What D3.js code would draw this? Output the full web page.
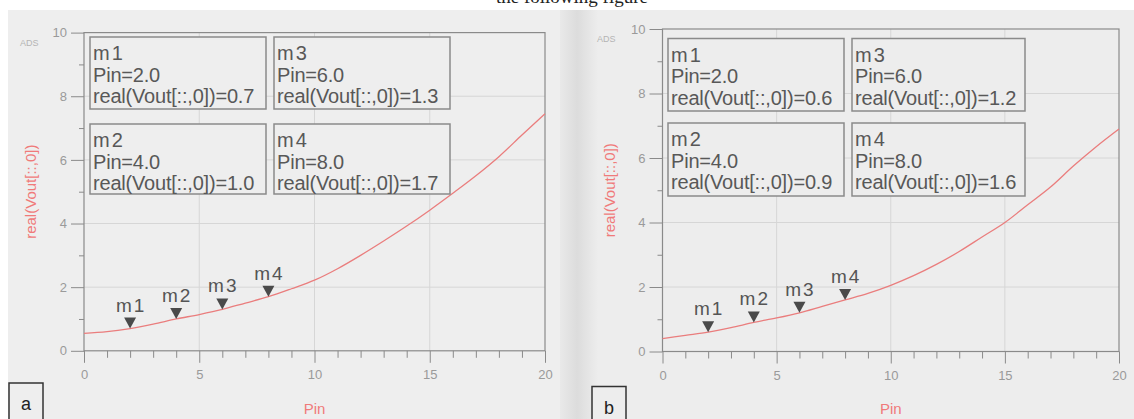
<!DOCTYPE html>
<html>
<head>
<meta charset="utf-8">
<script src="https://cdn.jsdelivr.net/npm/d3@7"></script>
<style>
  body { margin: 0; background: #fff; }
  svg { display: block; }
</style>
</head>
<body>
<div id="chart"></div>
<script>
// swept input (Pin) and the two simulated output curves
const pinSweep = [0, 1, 2, 3, 4, 5, 6, 7, 8, 9, 10, 11, 12, 13, 14, 15, 16, 17, 18, 19, 20];
const voutA = [0.55, 0.6, 0.7, 0.84, 1.0, 1.14, 1.3, 1.5, 1.7, 1.95, 2.22, 2.58, 3.0, 3.45, 3.92, 4.42, 4.95, 5.5, 6.1, 6.78, 7.45];
const voutB = [0.4, 0.5, 0.6, 0.74, 0.9, 1.04, 1.2, 1.4, 1.6, 1.8, 2.05, 2.35, 2.7, 3.1, 3.55, 4.0, 4.55, 5.1, 5.75, 6.35, 6.9];

// markers
const markerNames = ["m1", "m2", "m3", "m4"];
const markerPins = [2, 4, 6, 8];
const markerVoutA = [0.7, 1.0, 1.3, 1.7];
const markerVoutB = [0.6, 0.9, 1.2, 1.6];

// ticks
const yMajorTicks = [0, 2, 4, 6, 8, 10];
const yMinorTicks = [1, 3, 5, 7, 9];
const xMajorTicks = [0, 5, 10, 15, 20];
const xMinorTicks = [1, 2, 3, 4, 6, 7, 8, 9, 11, 12, 13, 14, 16, 17, 18, 19];
const xLabel = "Pin";
const yLabel = "real(Vout[::,0])";

const W = 1134, H = 419;
const bg = "#ededed";
const font = "'Liberation Sans', Arial, sans-serif";

const svg = d3.select("#chart").append("svg")
  .attr("width", W).attr("height", H);

// caption of the page above, cut off by the crop
svg.append("text")
  .attr("x", 572).attr("y", 3)
  .attr("text-anchor", "middle")
  .style("font-family", "'Liberation Serif', 'Times New Roman', serif")
  .style("font-size", "19px")
  .style("fill", "#222")
  .text("the following figure");

const defs = svg.append("defs");
const grad = defs.append("linearGradient").attr("id", "gap");
grad.append("stop").attr("offset", "0%").attr("stop-color", "#e9e9e9");
grad.append("stop").attr("offset", "45%").attr("stop-color", "#dcdcdc");
grad.append("stop").attr("offset", "100%").attr("stop-color", bg);

svg.append("rect").attr("x", 8).attr("y", 10).attr("width", 552).attr("height", H - 10).attr("fill", "#eeeeee");
svg.append("rect").attr("x", 560).attr("y", 10).attr("width", W - 560).attr("height", H - 10).attr("fill", bg);
svg.append("rect").attr("x", 560).attr("y", 10).attr("width", 38).attr("height", H - 10).attr("fill", "url(#gap)");

const panels = [
  {
    letter: "a", vout: voutA, marks: markerVoutA, fill: "#eeeeee",
    left: 84, right: 545, top: 32.6, bottom: 350.8,
    boxX: [90, 274], boxW: [176, 176], boxY: [37, 124], boxH: [72, 70],
    ads: [20, 46], yLabelX: 31, letterBox: [9, 383]
  },
  {
    letter: "b", vout: voutB, marks: markerVoutB, fill: bg,
    left: 662.5, right: 1119, top: 29, bottom: 351.5,
    boxX: [668, 852], boxW: [176, 173], boxY: [38.5, 123], boxH: [72.5, 73],
    ads: [597, 42], yLabelX: 610, letterBox: [592, 386.5]
  }
];

panels.forEach(drawPanel);

function drawPanel(p) {
  const x = d3.scaleLinear().domain([0, 20]).range([p.left, p.right]);
  const y = d3.scaleLinear().domain([0, 10]).range([p.bottom, p.top]);
  const g = svg.append("g");

  // grid
  g.append("g").selectAll("line").data(yMajorTicks.slice(1, -1)).join("line")
    .attr("x1", p.left).attr("x2", p.right)
    .attr("y1", d => y(d)).attr("y2", d => y(d))
    .attr("stroke", "#d6d6d6");
  g.append("g").selectAll("line").data(xMajorTicks.slice(1, -1)).join("line")
    .attr("y1", p.top).attr("y2", p.bottom)
    .attr("x1", d => x(d)).attr("x2", d => x(d))
    .attr("stroke", "#d6d6d6");

  // axes
  const styleAxis = sel => {
    sel.select(".domain").remove();
    sel.selectAll(".tick line").attr("stroke", "#8a8a8a");
    sel.selectAll(".tick text")
      .style("font-family", font).style("font-size", "13px").attr("fill", "#9a9a9a");
  };
  g.append("g").attr("transform", `translate(${p.left},0)`)
    .call(d3.axisLeft(y).tickValues(yMajorTicks).tickSize(13).tickPadding(4))
    .call(styleAxis);
  g.append("g").attr("transform", `translate(${p.left},0)`)
    .call(d3.axisLeft(y).tickValues(yMinorTicks).tickSize(5).tickFormat(""))
    .call(styleAxis);
  g.append("g").attr("transform", `translate(0,${p.bottom})`)
    .call(d3.axisBottom(x).tickValues(xMajorTicks).tickSize(12).tickPadding(7))
    .call(styleAxis);
  g.append("g").attr("transform", `translate(0,${p.bottom})`)
    .call(d3.axisBottom(x).tickValues(xMinorTicks).tickSize(7).tickFormat(""))
    .call(styleAxis);

  g.append("rect")
    .attr("x", p.left).attr("y", p.top)
    .attr("width", p.right - p.left).attr("height", p.bottom - p.top)
    .attr("fill", "none").attr("stroke", "#8a8a8a").attr("stroke-width", 1.2);

  // curve
  const line = d3.line()
    .x((d, i) => x(pinSweep[i]))
    .y(d => y(d))
    .curve(d3.curveMonotoneX);
  g.append("path").datum(p.vout)
    .attr("d", line)
    .attr("fill", "none").attr("stroke", "#ea7d7d").attr("stroke-width", 1.3);

  // marker triangles + names
  markerNames.forEach((name, i) => {
    const mx = x(markerPins[i]), my = y(p.marks[i]);
    g.append("path")
      .attr("d", `M${mx},${my}L${mx - 6},${my - 11}L${mx + 6},${my - 11}Z`)
      .attr("fill", "#4a4a4a");
    g.append("text")
      .attr("x", mx + 1).attr("y", my - 17)
      .attr("text-anchor", "middle")
      .style("font-family", font).style("font-size", "19px")
      .style("letter-spacing", "2px")
      .attr("fill", "#555")
      .text(name);
  });

  // marker readout boxes
  markerNames.forEach((name, i) => {
    const col = Math.floor(i / 2), row = i % 2;
    const bx = p.boxX[col], by = p.boxY[row];
    g.append("rect")
      .attr("x", bx).attr("y", by)
      .attr("width", p.boxW[col]).attr("height", p.boxH[row])
      .attr("fill", p.fill).attr("stroke", "#8a8a8a").attr("stroke-width", 1.5);
    const lines = [
      name,
      `${xLabel}=${d3.format(".1f")(markerPins[i])}`,
      `${yLabel}=${d3.format(".1f")(p.marks[i])}`
    ];
    lines.forEach((t, k) => {
      g.append("text")
        .attr("x", bx + 3).attr("y", by + 23 + k * 21.5)
        .style("font-family", font).style("font-size", "20px")
        .style("letter-spacing", k === 0 ? "2px" : "-0.2px")
        .attr("fill", "#585858")
        .text(t);
    });
  });

  // axis labels
  g.append("text")
    .attr("x", (p.left + p.right) / 2).attr("y", 414)
    .attr("text-anchor", "middle")
    .style("font-family", font).style("font-size", "15px")
    .attr("fill", "#f07a7a")
    .text(xLabel);
  g.append("text")
    .attr("transform", `translate(${p.yLabelX},${(p.top + p.bottom) / 2}) rotate(-90)`)
    .attr("text-anchor", "middle").attr("dy", "0.35em")
    .style("font-family", font).style("font-size", "15px")
    .attr("fill", "#f07a7a")
    .text(yLabel);

  g.append("text")
    .attr("x", p.ads[0]).attr("y", p.ads[1])
    .style("font-family", font).style("font-size", "9px")
    .attr("fill", "#b4b4b4")
    .text("ADS");

  // panel letter
  g.append("rect")
    .attr("x", p.letterBox[0]).attr("y", p.letterBox[1])
    .attr("width", 34).attr("height", 50)
    .attr("fill", p.fill).attr("stroke", "#333").attr("stroke-width", 1.5);
  g.append("text")
    .attr("x", p.letterBox[0] + 17).attr("y", p.letterBox[1] + 27)
    .attr("text-anchor", "middle")
    .style("font-family", font).style("font-size", "18px")
    .attr("fill", "#222")
    .text(p.letter);
}
</script>
</body>
</html>
